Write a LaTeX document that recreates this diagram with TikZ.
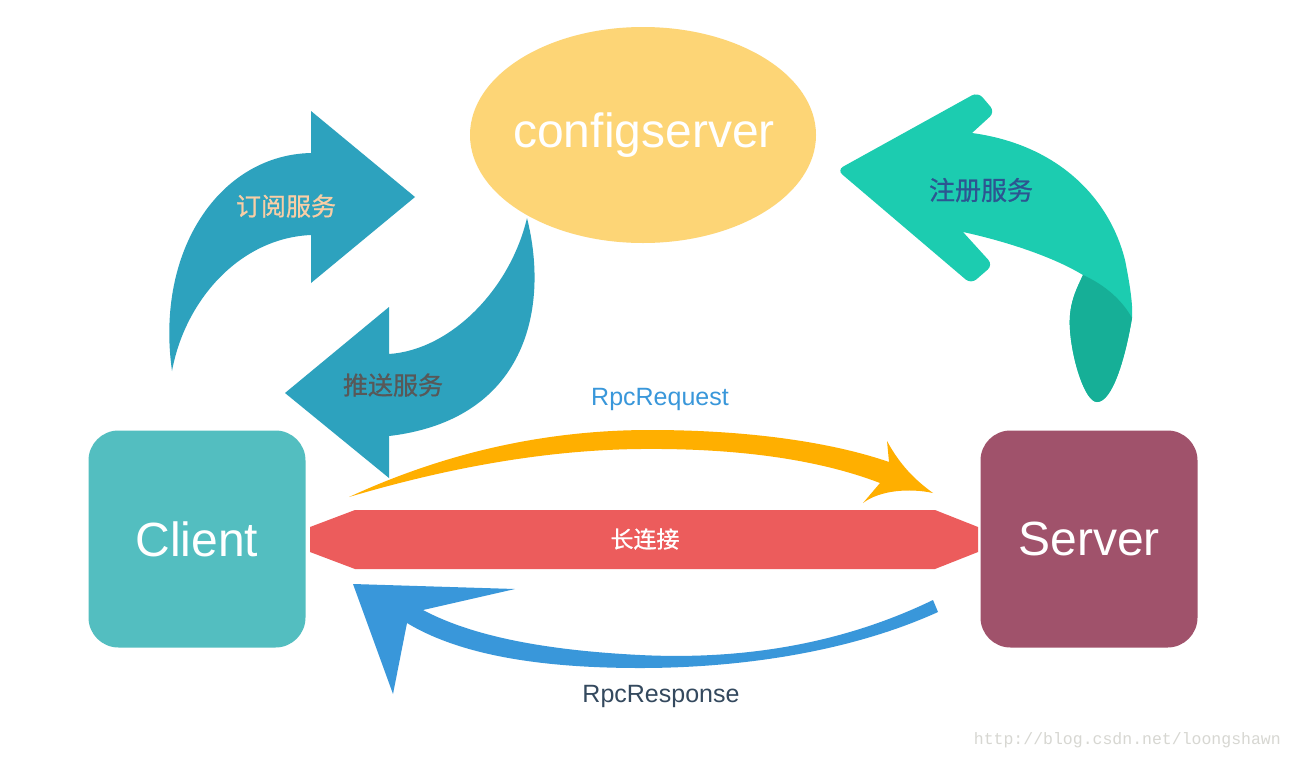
\documentclass[tikz,border=0pt]{standalone}
\usepackage{fontspec}
\setmainfont{Liberation Sans}
\setmonofont{Liberation Mono}
\newfontfamily\cjk[FakeBold=0.8]{Noto Sans CJK SC}
\usetikzlibrary{shapes.geometric}
\definecolor{confyellow}{RGB}{253,213,118}
\definecolor{clientteal}{RGB}{83,190,192}
\definecolor{serverplum}{RGB}{160,82,107}
\definecolor{linkred}{RGB}{236,92,92}
\definecolor{reqorange}{RGB}{255,175,0}
\definecolor{respblue}{RGB}{57,151,218}
\definecolor{subblue}{RGB}{45,162,190}
\definecolor{reggreen}{RGB}{28,204,176}
\definecolor{regdark}{RGB}{22,175,151}
\definecolor{subpeach}{RGB}{250,206,165}
\definecolor{pushgray}{RGB}{88,88,88}
\definecolor{regnavy}{RGB}{45,85,145}
\definecolor{respslate}{RGB}{52,73,94}
\definecolor{wmgray}{RGB}{215,215,210}
\tikzset{
  box/.style={rounded corners=30pt, minimum width=217pt, minimum height=217pt, inner sep=0pt,
    text=white, font=\fontsize{48}{56}\selectfont},
  cntag/.style={inner sep=0pt, font=\cjk\fontsize{25}{30}\selectfont},
  rpctag/.style={inner sep=0pt, font=\fontsize{25}{30}\selectfont},
}

\begin{document}
\begin{tikzpicture}[x=1pt,y=-1pt]
  \useasboundingbox [fill=white] (0,0) rectangle (1292,758);

  % the three parties
  \node [box, fill=clientteal] (client) at (197,539) {Client};
  \node [box, fill=serverplum] (server) at (1089,539) {Server};
  \fill [confyellow] (643,135) ellipse [x radius=173, y radius=108];
  \node [inner sep=0pt, text=white, font=\fontsize{48}{56}\selectfont] (config) at (644,135) {configserver};

  % long connection bar
  \fill [linkred] (310,527) -- (355,510) -- (935,510) -- (978,527) -- (978,552) -- (935,569)
    -- (355,569) -- (310,552) -- cycle;
  \node [cntag, text=white, font=\cjk\fontsize{23}{28}\selectfont] (link) at (645,539) {长连接};

  % subscribe arrow
  \fill [subblue] (172,371) .. controls (155,250) and (220,155) .. (311,153) -- (311,111)
    -- (415,197) -- (311,283) -- (311,235) .. controls (240,238) and (185,300) .. (172,371) -- cycle;
  \node [cntag, text=subpeach] (subscribe) at (286,206) {订阅服务};

  % push arrow
  \fill [subblue] (527,218) .. controls (550,310) and (525,420) .. (389,436) -- (389,478)
    -- (285,393) -- (389,307) -- (389,354) .. controls (450,350) and (510,290) .. (527,218) -- cycle;
  \node [cntag, text=pushgray] (push) at (393,385) {推送服务};

  % register arrow
  \fill [reggreen] (972,133) .. controls (1060,145) and (1110,200) .. (1125,260)
    .. controls (1130,285) and (1133,305) .. (1132,318)
    .. controls (1125,360) and (1112,402) .. (1097,402)
    .. controls (1085,402) and (1072,360) .. (1070,330)
    .. controls (1068,305) and (1076,290) .. (1083,275)
    .. controls (1050,255) and (1000,240) .. (963,232) [rounded corners=7pt] -- (993,265) -- (971,284)
    -- (837,170) -- (978,92) -- (995,112) [sharp corners] -- cycle;
  \fill [regdark] (1083,275) .. controls (1105,285) and (1122,300) .. (1132,318)
    .. controls (1125,360) and (1112,402) .. (1097,402)
    .. controls (1085,402) and (1072,360) .. (1070,330)
    .. controls (1068,305) and (1076,290) .. (1083,275) -- cycle;
  \node [cntag, text=regnavy, font=\cjk\fontsize{26}{30}\selectfont] (register) at (981,190) {注册服务};

  % request arrow
  \fill [reqorange] (349,497) .. controls (440,455) and (540,430) .. (650,430)
    .. controls (760,430) and (840,445) .. (889,462) -- (887,441)
    .. controls (900,465) and (915,480) .. (933,493)
    .. controls (910,488) and (880,490) .. (863,503) -- (880,483)
    .. controls (820,460) and (740,448) .. (640,449)
    .. controls (540,450) and (440,470) .. (349,497) -- cycle;
  \node [rpctag, text=respblue] (request) at (660,399) {RpcRequest};

  % response arrow
  \fill [respblue] (933,600) .. controls (840,645) and (740,660) .. (640,655)
    .. controls (540,650) and (470,635) .. (423,610) -- (515,589) -- (353,584) -- (393,694)
    -- (407,623) .. controls (460,655) and (540,668) .. (640,668)
    .. controls (740,668) and (850,652) .. (938,612) -- cycle;
  \node [rpctag, text=respslate] (response) at (661,696) {RpcResponse};

  \node [anchor=east, inner sep=0pt, text=wmgray, font=\ttfamily\fontsize{16.5}{20}\selectfont]
    (mark) at (1281,740) {http://blog.csdn.net/loongshawn};
\end{tikzpicture}
\end{document}
